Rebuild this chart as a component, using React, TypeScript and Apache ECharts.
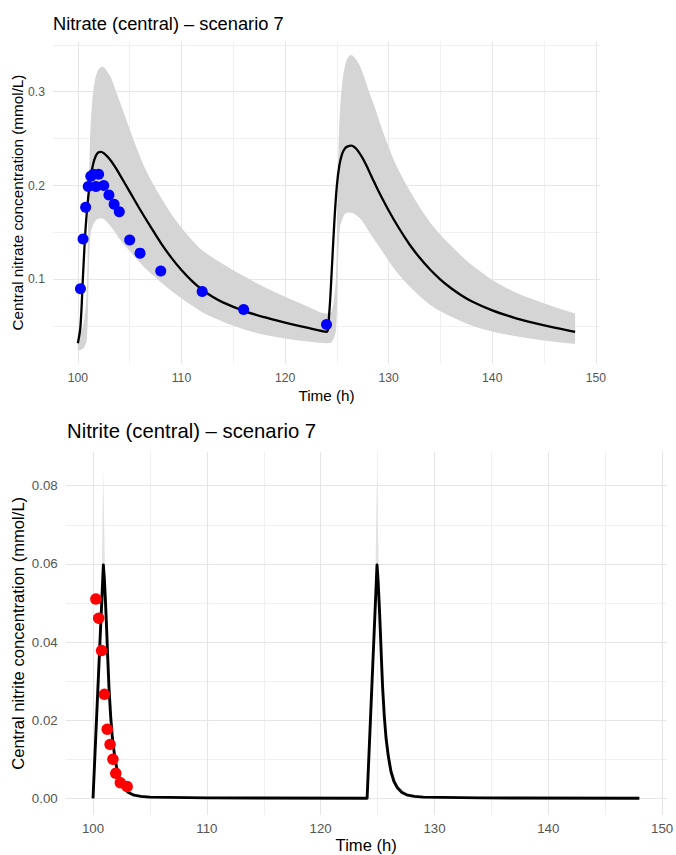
import React, { useEffect, useRef } from "react";
import * as echarts from "echarts";

// ---------- Nitrate (top panel) ----------
const nitrateTime = [
  100, 100.25, 100.5, 100.75, 101, 101.25, 101.5, 101.75, 102, 102.25, 102.5, 103, 103.5, 104, 105, 106, 107, 108,
  109, 110, 111, 112, 113, 114, 116, 118, 120, 122, 124, 124.25, 124.5, 124.75, 125, 125.25, 125.5, 125.75, 126,
  126.4, 126.75, 127, 127.5, 128, 128.5, 129, 130, 131, 132, 133, 134, 135, 136, 137, 138, 140, 142, 144, 146, 148,
];
const nitrateMean = [
  0.032, 0.05, 0.105, 0.155, 0.188, 0.21, 0.224, 0.232, 0.2355, 0.236, 0.2345, 0.229, 0.2215, 0.2125, 0.1935, 0.1745,
  0.1565, 0.139, 0.1235, 0.11, 0.0985, 0.089, 0.0815, 0.0755, 0.0665, 0.0597, 0.054, 0.0488, 0.0442, 0.062, 0.108,
  0.16, 0.2, 0.222, 0.2335, 0.239, 0.2415, 0.2425, 0.2405, 0.2375, 0.229, 0.218, 0.206, 0.1945, 0.1735, 0.1545,
  0.1375, 0.123, 0.1105, 0.0998, 0.0908, 0.0832, 0.0768, 0.067, 0.0596, 0.0537, 0.0486, 0.0441,
];
const nitrateBandTime = [
  100, 100.5, 100.85, 101, 101.1, 101.25, 101.5, 101.75, 102, 102.35, 102.75, 103.2, 103.6, 104.1, 105.1, 105.75,
  106.5, 107.4, 108.2, 109, 110, 110.6, 112, 114, 116, 118, 120, 122, 124, 124.5, 124.9, 125.05, 125.15, 125.3,
  125.55, 125.8, 126.1, 126.4, 126.8, 127.25, 127.65, 128.15, 128.7, 129.15, 129.8, 130.55, 131.45, 132.25, 133.05,
  134.05, 135, 136, 138, 140, 142, 144, 146, 148,
];
const nitrateUpper = [
  0.04, 0.05, 0.085, 0.17, 0.22, 0.268, 0.302, 0.317, 0.324, 0.327, 0.323, 0.315, 0.303, 0.288, 0.257, 0.238,
  0.218, 0.199, 0.184, 0.17, 0.155, 0.147, 0.131, 0.1165, 0.1035, 0.092, 0.0815, 0.072, 0.0637, 0.066, 0.1, 0.18,
  0.235, 0.28, 0.312, 0.328, 0.337, 0.339, 0.335, 0.327, 0.315, 0.299, 0.282, 0.267, 0.247, 0.226, 0.206, 0.1905,
  0.176, 0.16, 0.1475, 0.136, 0.1155, 0.0995, 0.0875, 0.0785, 0.0705, 0.0637,
];
const nitrateLower = [
  0.024, 0.026, 0.035, 0.08, 0.125, 0.15, 0.159, 0.163, 0.165, 0.165, 0.162, 0.156, 0.15, 0.142, 0.129, 0.121,
  0.112, 0.103, 0.095, 0.088, 0.08, 0.075, 0.065, 0.055, 0.047, 0.041, 0.037, 0.034, 0.032, 0.033, 0.045, 0.09,
  0.13, 0.155, 0.165, 0.17, 0.171, 0.171, 0.169, 0.165, 0.159, 0.15, 0.141, 0.134, 0.123, 0.111, 0.099, 0.09,
  0.0815, 0.0725, 0.066, 0.0605, 0.051, 0.0445, 0.04, 0.0365, 0.0335, 0.031,
];
const nitrateObsTime = [100.25, 100.5, 100.75, 101, 101.25, 101.5, 101.75, 102, 102.5, 103, 103.5, 104, 105, 106, 108, 112, 116, 124];
const nitrateObs = [0.09, 0.143, 0.177, 0.199, 0.21, 0.212, 0.199, 0.212, 0.2, 0.19, 0.18, 0.172, 0.142, 0.128, 0.109, 0.087, 0.068, 0.052];

// ---------- Nitrite (bottom panel) ----------
const nitriteTime = [
  100, 100.91, 101.0, 101.1, 101.2, 101.3, 101.4, 101.55, 101.7, 101.9, 102.14, 102.4, 102.7, 103.1, 103.6, 104.2,
  105, 110, 124.08, 124.95, 125.04, 125.14, 125.24, 125.34, 125.44, 125.59, 125.74, 125.94, 126.18, 126.44, 126.74,
  127.14, 127.64, 128.24, 129, 134, 148,
];
const nitriteMean = [
  0, 0.0597, 0.056, 0.05, 0.043, 0.0355, 0.0285, 0.021, 0.0155, 0.0108, 0.0068, 0.0043, 0.0027, 0.0015, 0.0008,
  0.0005, 0.0003, 0.0001, 0.00003, 0.0597, 0.056, 0.05, 0.043, 0.0355, 0.0285, 0.021, 0.0155, 0.0108, 0.0068, 0.0043,
  0.0027, 0.0015, 0.0008, 0.0005, 0.0003, 0.0001, 0.00003,
];
const nitriteBandTime = [
  100, 100.75, 100.9, 101.05, 101.2, 101.4, 101.7, 102.14, 102.7, 103.6, 105, 124.08, 124.8, 124.95, 125.1, 125.25,
  125.45, 125.75, 126.2, 126.75, 127.65, 129, 148,
];
const nitriteUpper = [
  0, 0.055, 0.0845, 0.058, 0.045, 0.031, 0.0175, 0.008, 0.0033, 0.0012, 0.0004, 0, 0.055, 0.0845, 0.058, 0.045,
  0.031, 0.0175, 0.008, 0.0033, 0.0012, 0.0004, 0.0001,
];
const nitriteLower = [
  0, 0.05, 0.05, 0.048, 0.04, 0.026, 0.0135, 0.0058, 0.0021, 0.0006, 0.0002, 0, 0.05, 0.05, 0.048, 0.04, 0.026,
  0.0135, 0.0058, 0.0021, 0.0006, 0.0002, 0.00005,
];
const nitriteObsTime = [100.25, 100.5, 100.75, 101, 101.25, 101.5, 101.75, 102, 102.4, 103];
const nitriteObs = [0.051, 0.0461, 0.0378, 0.0266, 0.0177, 0.0138, 0.01, 0.0064, 0.004, 0.003];

// ---------- axes / ticks ----------
const timeTicks = [100, 110, 120, 130, 140, 150];
const timeGridMajor = [100, 110, 120, 130, 140, 150];
const timeGridMinor = [105, 115, 125, 135, 145];
const nitrateTicks = [0.1, 0.2, 0.3];
const nitrateGridMinor = [0.05, 0.15, 0.25, 0.35];
const nitriteTicks = [0, 0.02, 0.04, 0.06, 0.08];
const nitriteGridMinor = [0.01, 0.03, 0.05, 0.07];

const FONT = "'Liberation Sans', Arial, Helvetica, sans-serif";
const MAJOR = "#e6e6e6";
const MINOR = "#f0f0f0";

function gridSeries(idx: number, yMajor: number[], yMinor: number[]) {
  const data: any[] = [];
  timeGridMinor.forEach((v) => data.push({ xAxis: v, lineStyle: { color: MINOR, width: 1 } }));
  yMinor.forEach((v) => data.push({ yAxis: v, lineStyle: { color: MINOR, width: 1 } }));
  timeGridMajor.forEach((v) => data.push({ xAxis: v, lineStyle: { color: MAJOR, width: 1.1 } }));
  yMajor.forEach((v) => data.push({ yAxis: v, lineStyle: { color: MAJOR, width: 1.1 } }));
  return {
    type: "scatter",
    xAxisIndex: idx,
    yAxisIndex: idx,
    data: [],
    silent: true,
    z: 0,
    markLine: {
      silent: true,
      z: 0,
      symbol: ["none", "none"],
      label: { show: false },
      emphasis: { disabled: true },
      lineStyle: { type: "solid" },
      data,
    },
  };
}

// Band: lower (invisible) + (upper - lower) stacked on the value dimension (index 0), time in dimension 1.
function bandSeries(idx: number, t: number[], lo: number[], hi: number[], color: string, stack: string, smooth: number) {
  return [
    {
      type: "line",
      xAxisIndex: idx,
      yAxisIndex: idx,
      stack,
      encode: { x: 1, y: 0 },
      symbol: "none",
      smooth,
      lineStyle: { width: 0, opacity: 0 },
      data: t.map((x, i) => [lo[i], x]),
      z: 1,
      silent: true,
    },
    {
      type: "line",
      xAxisIndex: idx,
      yAxisIndex: idx,
      stack,
      encode: { x: 1, y: 0 },
      symbol: "none",
      smooth,
      lineStyle: { width: 0, opacity: 0 },
      areaStyle: { color, opacity: 1 },
      data: t.map((x, i) => [hi[i] - lo[i], x]),
      z: 1,
      silent: true,
    },
  ];
}

export default function App() {
  const ref = useRef<HTMLDivElement>(null);
  useEffect(() => {
    if (!ref.current) return;
    const chart = echarts.init(ref.current, undefined, { renderer: "svg" });
    const axisCommon = {
      type: "value",
      axisLine: { show: false },
      axisTick: { show: false },
      splitLine: { show: false },
      nameLocation: "middle",
      nameMoveOverlap: false,
    };
    chart.setOption({
      animation: false,
      backgroundColor: "#ffffff",
      grid: [
        { left: 53, top: 41.7, width: 547, height: 321.7, containLabel: false, outerBoundsMode: "none" },
        { left: 65.7, top: 451.7, width: 601, height: 363.3, containLabel: false, outerBoundsMode: "none" },
      ],
      xAxis: [
        {
          ...axisCommon,
          gridIndex: 0,
          min: 97.6,
          max: 150.4,
          name: "Time (h)",
          nameGap: 25,
          nameTextStyle: { fontSize: 15.25, color: "#000", fontFamily: FONT },
          axisLabel: {
            customValues: timeTicks,
            color: "#555555",
            fontSize: 12.2,
            fontFamily: FONT,
            margin: 9,
            formatter: (v: number) => String(Math.round(v)),
          },
        },
        {
          ...axisCommon,
          gridIndex: 1,
          min: 97.6,
          max: 150.4,
          name: "Time (h)",
          nameGap: 22,
          nameTextStyle: { fontSize: 16.6, color: "#000", fontFamily: FONT, lineHeight: 17 },
          axisLabel: {
            customValues: timeTicks,
            color: "#555555",
            fontSize: 13.3,
            fontFamily: FONT,
            margin: 7,
            formatter: (v: number) => String(Math.round(v)),
          },
        },
      ],
      yAxis: [
        {
          ...axisCommon,
          gridIndex: 0,
          min: 0.0105,
          max: 0.3533,
          name: "Central nitrate concentration (mmol/L)",
          nameGap: 28,
          nameTextStyle: { fontSize: 15.25, color: "#000", fontFamily: FONT },
          axisLabel: {
            customValues: nitrateTicks,
            color: "#555555",
            fontSize: 12.2,
            fontFamily: FONT,
            margin: 8,
            formatter: (v: number) => v.toFixed(1),
          },
        },
        {
          ...axisCommon,
          gridIndex: 1,
          min: -0.00427,
          max: 0.0887,
          name: "Central nitrite concentration (mmol/L)",
          nameGap: 39,
          nameTextStyle: { fontSize: 16.6, color: "#000", fontFamily: FONT },
          axisLabel: {
            customValues: nitriteTicks,
            color: "#555555",
            fontSize: 13.3,
            fontFamily: FONT,
            margin: 8,
            formatter: (v: number) => v.toFixed(2),
          },
        },
      ],
      graphic: [
        {
          type: "text",
          left: 53,
          top: 14,
          style: {
            text: "Nitrate (central) \u2013 scenario 7",
            fontSize: 18.3,
            fontFamily: FONT,
            fill: "#000",
          },
        },
        {
          type: "text",
          left: 67,
          top: 421,
          style: {
            text: "Nitrite (central) \u2013 scenario 7",
            fontSize: 20.3,
            fontFamily: FONT,
            fill: "#000",
          },
        },
      ],
      series: [
        gridSeries(0, nitrateTicks, nitrateGridMinor),
        gridSeries(1, nitriteTicks, nitriteGridMinor),
        ...bandSeries(0, nitrateBandTime, nitrateLower, nitrateUpper, "#d5d5d5", "b1", 0.3),
        ...bandSeries(1, nitriteBandTime, nitriteLower, nitriteUpper, "#e2e2e2", "b2", 0),
        {
          type: "line",
          xAxisIndex: 0,
          yAxisIndex: 0,
          symbol: "none",
          smooth: 0.35,
          lineStyle: { color: "#000", width: 2.3 },
          data: nitrateTime.map((t, i) => [t, nitrateMean[i]]),
          z: 3,
          silent: true,
        },
        {
          type: "line",
          xAxisIndex: 1,
          yAxisIndex: 1,
          symbol: "none",
          smooth: false,
          lineStyle: { color: "#000", width: 2.9, join: "round" },
          data: nitriteTime.map((t, i) => [t, nitriteMean[i]]),
          z: 3,
          silent: true,
        },
        {
          type: "scatter",
          xAxisIndex: 0,
          yAxisIndex: 0,
          symbolSize: 11,
          itemStyle: { color: "#0000ff", opacity: 1 },
          data: nitrateObsTime.map((t, i) => [t, nitrateObs[i]]),
          z: 4,
          silent: true,
        },
        {
          type: "scatter",
          xAxisIndex: 1,
          yAxisIndex: 1,
          symbolSize: 11.5,
          itemStyle: { color: "#ff0000", opacity: 1 },
          data: nitriteObsTime.map((t, i) => [t, nitriteObs[i]]),
          z: 4,
          silent: true,
        },
      ],
    });
    return () => chart.dispose();
  }, []);
  return <div ref={ref} style={{ position: "fixed", left: 0, top: 0, width: 676, height: 855 }} />;
}
